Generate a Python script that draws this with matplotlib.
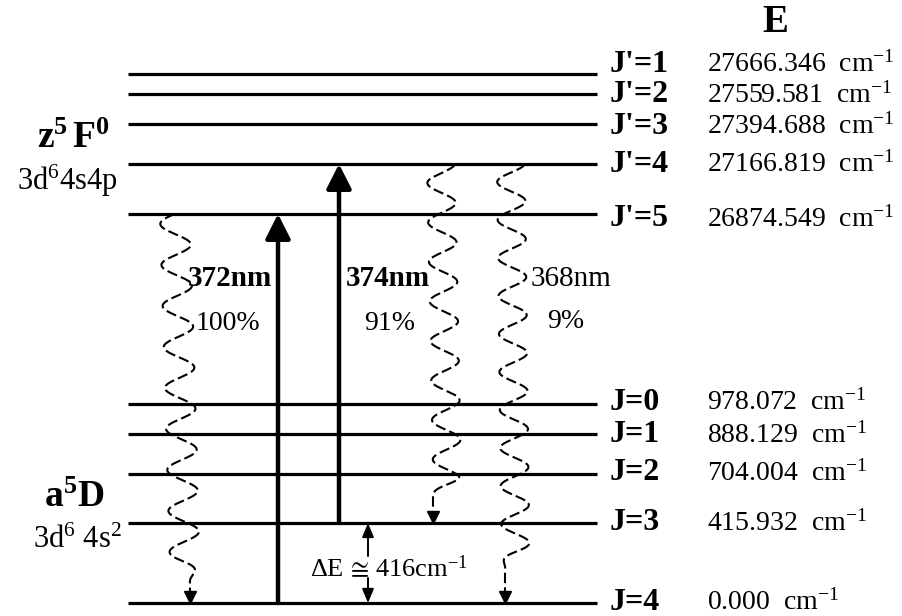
import numpy as np
import matplotlib.pyplot as plt

plt.rcParams['font.family'] = ['Liberation Serif', 'DejaVu Serif']
plt.rcParams['mathtext.fontset'] = 'custom'
plt.rcParams['mathtext.rm'] = 'Liberation Serif'
plt.rcParams['mathtext.bf'] = 'Liberation Serif:bold'
plt.rcParams['mathtext.it'] = 'Liberation Serif:italic'
plt.rcParams['mathtext.fallback'] = 'stix'

# Fe I levels (cm^-1)
upper_terms = ["J'=1", "J'=2", "J'=3", "J'=4", "J'=5"]
upper_energy = [27666.346, 27559.581, 27394.688, 27166.819, 26874.549]
lower_terms = ["J=0", "J=1", "J=2", "J=3", "J=4"]
lower_energy = [978.072, 888.129, 704.004, 415.932, 0.000]

# laser pumping: lower index -> upper index
pump_lower = [4, 3]
pump_upper = [4, 3]
pump_nm = [372, 374]

# spontaneous decay channels: upper index -> lower index, branching ratio
decay_upper = [4, 3, 3]
decay_lower = [4, 3, 4]
decay_nm = [372, 374, 368]
decay_pct = [100, 91, 9]

# schematic (not to scale) vertical placement of the levels
upper_y = [74, 94, 124, 164, 214]
lower_y = [404, 434, 474, 523, 603]
upper_text_y = [64, 95, 126, 164, 219]
lower_text_y = [402, 435, 473, 523, 602]
X0, X1 = 128, 597

fig = plt.figure(figsize=(9.03, 6.16), dpi=100)
ax = fig.add_axes([0, 0, 1, 1])
ax.set_xlim(0, 903)
ax.set_ylim(616, 0)
ax.axis('off')

# level lines with J label and energy
for ys, ts, terms, energies in [(upper_y, upper_text_y, upper_terms, upper_energy),
                                (lower_y, lower_text_y, lower_terms, lower_energy)]:
    for y, ty, term, e in zip(ys, ts, terms, energies):
        ax.hlines(y, X0, X1, color='black', lw=2.3)
        ax.text(610, ty, term, fontsize=23, weight='bold', ha='left', va='center')
        ax.text(707, ty, f"{e:.3f}  cm" + r"$^{-1}$", fontsize=20, ha='left', va='center')

ax.text(775, 22, "E", fontsize=28, weight='bold', ha='center', va='center')

# term and configuration names
ax.text(110, 148, r"$\mathbf{z^5\,F^0}$", fontsize=27, ha='right', va='baseline')
ax.text(118, 190, r"3d$^6$4s4p", fontsize=22, ha='right', va='baseline')
ax.text(104, 507, r"$\mathbf{a^5D}$", fontsize=27, ha='right', va='baseline')
ax.text(122, 548, r"3d$^6$ 4s$^2$", fontsize=22, ha='right', va='baseline')

# pump arrows
pump_x = [278, 339]
for x, lo, up in zip(pump_x, pump_lower, pump_upper):
    ax.annotate('', xy=(x, upper_y[up]), xytext=(x, lower_y[lo]),
                arrowprops=dict(arrowstyle='-|>,head_length=0.75,head_width=0.38',
                                lw=3.2, color='black', shrinkA=0, shrinkB=0,
                                mutation_scale=20))


def wavy(c_top, c_bot, x_end, y_top, y_end, y_trough, period, amp, y_stop, damp):
    # sine wiggle whose swing fades into a straight drop onto the lower level
    y = np.linspace(y_top, y_end - 9, 800)
    c = c_top + (c_bot - c_top) * (y - y_top) / (y_end - y_top)
    w = c - amp * np.sin(2 * np.pi * (y - y_trough + period / 4) / period)
    f = np.clip((y_stop - y) / damp, 0, 1)
    f = 0.5 - 0.5 * np.cos(np.pi * f)
    x = f * w + (1 - f) * x_end
    ax.plot(x, y, color='black', lw=1.5, ls=(0, (5, 2)))
    ax.plot(x_end, y_end - 6, marker='v', ms=8, color='black')


decay_shape = [
    dict(c_top=175, c_bot=186, x_end=190, y_trough=224, period=41, amp=15, y_stop=585, damp=28),
    dict(c_top=441, c_bot=448, x_end=433, y_trough=183, period=39.5, amp=14, y_stop=498, damp=24),
    dict(c_top=511, c_bot=516, x_end=505, y_trough=182, period=38, amp=14, y_stop=572, damp=26),
]
for up, lo, shape in zip(decay_upper, decay_lower, decay_shape):
    wavy(y_top=upper_y[up], y_end=lower_y[lo], **shape)

# wavelength and branching labels
nm_xy = [(230, 279), (388, 279), (571, 279)]
pct_xy = [(228, 323), (390, 324), (566, 322)]
for nm, pct, (nx, ny), (px, py) in zip(decay_nm, decay_pct, nm_xy, pct_xy):
    bold = 'bold' if nm in pump_nm else 'normal'
    ax.text(nx, ny, f"{nm}nm", fontsize=21, weight=bold, ha='center', va='center')
    ax.text(px, py, f"{pct}%", fontsize=20, ha='center', va='center')

# ground-state splitting J=3 - J=4
dE = lower_energy[3] - lower_energy[4]
ax.annotate('', xy=(368, lower_y[3]), xytext=(368, 556),
            arrowprops=dict(arrowstyle='-|>,head_length=0.6,head_width=0.25', lw=1.4,
                            color='black', shrinkA=0, shrinkB=0, mutation_scale=14))
ax.annotate('', xy=(368, lower_y[4]), xytext=(368, 578),
            arrowprops=dict(arrowstyle='-|>,head_length=0.6,head_width=0.25', lw=1.4,
                            color='black', shrinkA=0, shrinkB=0, mutation_scale=14))
ax.text(310, 568, "ΔE" + r"$\,\cong\,$" + f"{dE:.0f}cm" + r"$^{-1}$",
        fontsize=19, ha='left', va='center')

fig.savefig('out.png', dpi=100)
